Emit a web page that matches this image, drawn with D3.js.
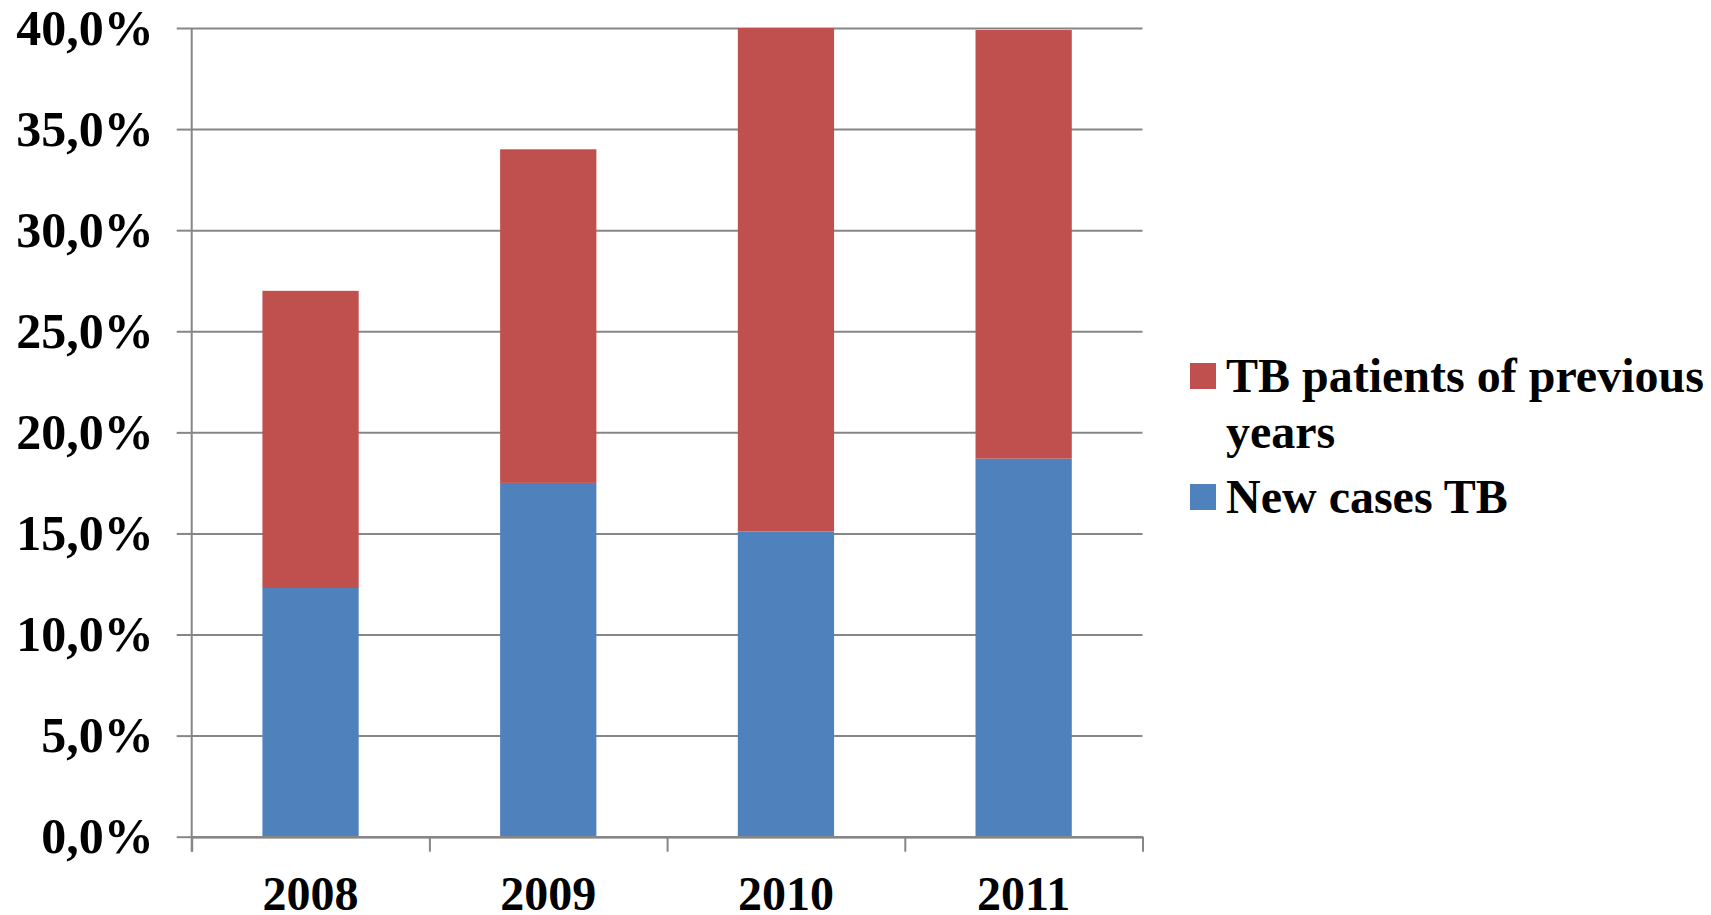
<!DOCTYPE html>
<html>
<head>
<meta charset="utf-8">
<script src="https://cdn.jsdelivr.net/npm/d3@7"></script>
<style>
  body { margin: 0; background: #fff; }
  svg text { font-family: "Liberation Serif", "Times New Roman", serif; font-weight: bold; fill: #000; }
</style>
</head>
<body>
<div id="app"></div>
<script>
const years = ["2008", "2009", "2010", "2011"];
const newCases = [12.3, 17.5, 15.1, 18.7];
const previousYears = [14.7, 16.5, 24.9, 21.2];
const yTicks = [0, 5, 10, 15, 20, 25, 30, 35, 40];
const seriesNames = ["TB patients of previous years", "New cases TB"];

const width = 1711;
const height = 915;
const svg = d3.select('#app').append('svg')
    .attr('width', width).attr('height', height);
const margin = { top: 28, right: 568.5, bottom: 78.3, left: 191.7 };
const innerWidth = width - margin.left - margin.right;
const innerHeight = height - margin.top - margin.bottom;
const g = svg.append('g')
    .attr('transform', `translate(${margin.left}, ${margin.top})`);

const gridColor = "#868686";
const color = { prev: "#C0504D", new: "#4F81BD" };

const rows = years.map((y, i) => ({ year: y, new: newCases[i], prev: previousYears[i] }));
const stacked = d3.stack().keys(["new", "prev"])(rows);

const x = d3.scaleBand().domain(years).range([0, innerWidth]).padding(0);
const xEdges = d3.scaleLinear().domain([0, years.length]).range([0, innerWidth]);
const y = d3.scaleLinear().domain([0, 40]).range([innerHeight, 0]);
const barW = x.bandwidth() * 0.405;

const locale = d3.formatLocale({ decimal: ",", thousands: ".", grouping: [3], currency: ["", ""] });
const fmt = locale.format(".1f");

// gridlines
g.append('g')
    .call(d3.axisLeft(y).tickValues(yTicks).tickSize(-innerWidth).tickFormat(""))
    .call(s => s.select('.domain').remove())
    .call(s => s.selectAll('line').attr('stroke', gridColor).attr('stroke-width', 2));

// bars
g.selectAll('g.series').data(stacked).join('g')
    .attr('class', 'series')
    .attr('fill', d => color[d.key])
    .selectAll('rect').data(d => d).join('rect')
    .attr('x', d => x(d.data.year) + (x.bandwidth() - barW) / 2)
    .attr('width', barW)
    .attr('y', d => y(d[1]))
    .attr('height', d => y(d[0]) - y(d[1]));

// y axis with labels
g.append('g')
    .call(d3.axisLeft(y).tickValues(yTicks).tickSize(15).tickPadding(23).tickFormat(d => fmt(d) + "%"))
    .call(s => s.select('.domain').remove())
    .call(s => s.selectAll('line').attr('stroke', gridColor).attr('stroke-width', 2))
    .call(s => s.selectAll('text').attr('font-size', 50).attr('dy', null).attr('y', 16)
        .style('font-family', '"Liberation Serif", "Times New Roman", serif').style('font-weight', 'bold'));

// vertical axis line
g.append('line')
    .attr('x1', 0).attr('x2', 0).attr('y1', 0).attr('y2', innerHeight + 15)
    .attr('stroke', gridColor).attr('stroke-width', 2);

// x axis line + boundary ticks
g.append('g')
    .attr('transform', `translate(0, ${innerHeight})`)
    .call(d3.axisBottom(xEdges).ticks(years.length).tickSize(15).tickSizeOuter(0).tickFormat(""))
    .call(s => s.select('.domain').attr('stroke', gridColor).attr('stroke-width', 2.5))
    .call(s => s.selectAll('line').attr('stroke', gridColor).attr('stroke-width', 2));

// x labels
g.append('g')
    .attr('transform', `translate(0, ${innerHeight})`)
    .call(d3.axisBottom(x).tickSize(0).tickPadding(0))
    .call(s => s.select('.domain').remove())
    .call(s => s.selectAll('text').attr('font-size', 48).attr('dy', null).attr('y', 73)
        .style('font-family', '"Liberation Serif", "Times New Roman", serif').style('font-weight', 'bold'));

// legend
const legend = svg.append('g').attr('transform', 'translate(1190, 0)');
const legendItems = [
    { key: "prev", lines: ["TB patients of previous", "years"], sq: 363, base: 392 },
    { key: "new", lines: ["New cases TB"], sq: 484, base: 513 }
];
legendItems.forEach(item => {
    legend.append('rect')
        .attr('x', 0).attr('y', item.sq)
        .attr('width', 26).attr('height', 26)
        .attr('fill', color[item.key]);
    const t = legend.append('text')
        .attr('x', 36).attr('y', item.base)
        .attr('font-size', 48);
    item.lines.forEach((ln, i) => {
        t.append('tspan').attr('x', 36).attr('dy', i === 0 ? 0 : 56).text(ln);
    });
});
</script>
</body>
</html>
